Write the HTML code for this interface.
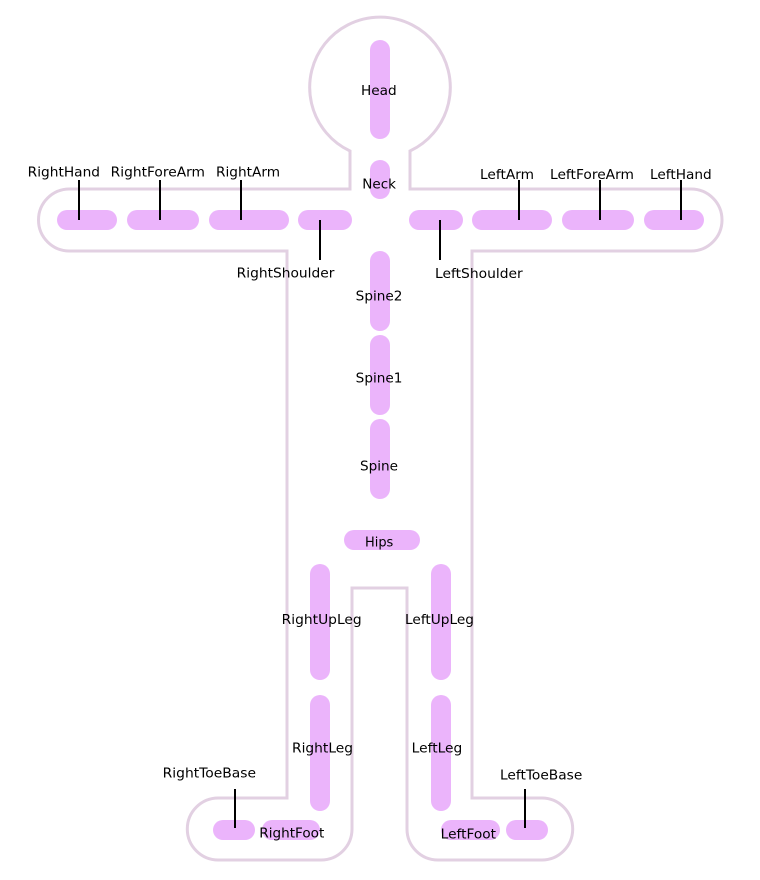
<!DOCTYPE html>
<html>
<head>
<meta charset="utf-8">
<style>
  html, body { margin: 0; padding: 0; background: #ffffff; }
  svg { display: block; }
  text { font-family: "DejaVu Sans", "Liberation Sans", sans-serif; font-size: 13.6px; fill: #000; }
</style>
</head>
<body>
<svg width="760" height="880" viewBox="0 0 760 880" xmlns="http://www.w3.org/2000/svg">
  <rect x="0" y="0" width="760" height="880" fill="#ffffff"/>
  <!-- body outline -->
  <path d="M350,189 L350,151 A70.3,70.3 0 1 1 410,151 L410,189 L691,189 A31,31 0 0 1 691,251 L472,251 L472,798 L541.7,798 A31,31 0 0 1 541.7,860 L438,860 A31,31 0 0 1 407,829 L407,588 L352,588 L352,829 A31,31 0 0 1 321,860 L218.3,860 A31,31 0 0 1 218.3,798 L287,798 L287,251 L69.5,251 A31,31 0 0 1 69.5,189 Z"
        fill="none" stroke="#e2d0e2" stroke-width="3"/>

  <g fill="#ebb4fb">
    <!-- center column -->
    <rect x="370" y="40" width="20" height="99" rx="10"/>
    <rect x="370" y="160" width="20" height="39" rx="10"/>
    <rect x="370" y="251" width="20" height="80" rx="10"/>
    <rect x="370" y="335" width="20" height="80" rx="10"/>
    <rect x="370" y="419" width="20" height="80" rx="10"/>
    <rect x="344" y="530" width="76" height="20" rx="10"/>
    <!-- legs -->
    <rect x="310" y="564" width="20" height="116" rx="10"/>
    <rect x="431" y="564" width="20" height="116" rx="10"/>
    <rect x="310" y="695" width="20" height="116" rx="10"/>
    <rect x="431" y="695" width="20" height="116" rx="10"/>
    <!-- arms -->
    <rect x="57" y="210" width="60" height="20" rx="10"/>
    <rect x="127" y="210" width="72" height="20" rx="10"/>
    <rect x="209" y="210" width="80" height="20" rx="10"/>
    <rect x="298" y="210" width="54" height="20" rx="10"/>
    <rect x="409" y="210" width="54" height="20" rx="10"/>
    <rect x="472" y="210" width="80" height="20" rx="10"/>
    <rect x="562" y="210" width="72" height="20" rx="10"/>
    <rect x="644" y="210" width="60" height="20" rx="10"/>
    <!-- feet -->
    <rect x="213" y="820" width="42" height="20" rx="10"/>
    <rect x="262" y="820" width="58" height="20" rx="10"/>
    <rect x="441" y="820" width="59" height="20" rx="10"/>
    <rect x="506" y="820" width="42" height="20" rx="10"/>
  </g>

  <g stroke="#000" stroke-width="2">
    <line x1="79" y1="180" x2="79" y2="220"/>
    <line x1="160" y1="180" x2="160" y2="220"/>
    <line x1="241" y1="180" x2="241" y2="220"/>
    <line x1="519" y1="180" x2="519" y2="220"/>
    <line x1="600" y1="180" x2="600" y2="220"/>
    <line x1="681" y1="180" x2="681" y2="220"/>
    <line x1="320" y1="220" x2="320" y2="260"/>
    <line x1="440" y1="220" x2="440" y2="260"/>
    <line x1="235" y1="789" x2="235" y2="828"/>
    <line x1="525" y1="789" x2="525" y2="828"/>
  </g>

  <g>
    <text x="361" y="95" textLength="35.7" lengthAdjust="spacingAndGlyphs">Head</text>
    <text x="362.3" y="188.3" textLength="33.7" lengthAdjust="spacingAndGlyphs">Neck</text>
    <text x="27.7" y="176.7" textLength="72.3" lengthAdjust="spacingAndGlyphs">RightHand</text>
    <text x="110.7" y="176.7" textLength="94.3" lengthAdjust="spacingAndGlyphs">RightForeArm</text>
    <text x="216" y="176.7" textLength="64" lengthAdjust="spacingAndGlyphs">RightArm</text>
    <text x="236.7" y="277.3" textLength="97.7" lengthAdjust="spacingAndGlyphs">RightShoulder</text>
    <text x="480" y="179" textLength="54" lengthAdjust="spacingAndGlyphs">LeftArm</text>
    <text x="550" y="179" textLength="84" lengthAdjust="spacingAndGlyphs">LeftForeArm</text>
    <text x="650" y="179" textLength="61.7" lengthAdjust="spacingAndGlyphs">LeftHand</text>
    <text x="435" y="278" textLength="87.7" lengthAdjust="spacingAndGlyphs">LeftShoulder</text>
    <text x="355.7" y="300.7" textLength="46.7" lengthAdjust="spacingAndGlyphs">Spine2</text>
    <text x="355.7" y="382.7" textLength="46.7" lengthAdjust="spacingAndGlyphs">Spine1</text>
    <text x="360" y="470.7" textLength="38" lengthAdjust="spacingAndGlyphs">Spine</text>
    <text x="365" y="546.7" textLength="28.3" lengthAdjust="spacingAndGlyphs">Hips</text>
    <text x="281.7" y="624" textLength="80" lengthAdjust="spacingAndGlyphs">RightUpLeg</text>
    <text x="405" y="624" textLength="69" lengthAdjust="spacingAndGlyphs">LeftUpLeg</text>
    <text x="292" y="752.7" textLength="61" lengthAdjust="spacingAndGlyphs">RightLeg</text>
    <text x="411.7" y="752.7" textLength="50.6" lengthAdjust="spacingAndGlyphs">LeftLeg</text>
    <text x="162.7" y="777.3" textLength="93.3" lengthAdjust="spacingAndGlyphs">RightToeBase</text>
    <text x="259.3" y="837.3" textLength="65" lengthAdjust="spacingAndGlyphs">RightFoot</text>
    <text x="440.7" y="838.4" textLength="55.3" lengthAdjust="spacingAndGlyphs">LeftFoot</text>
    <text x="500" y="779.3" textLength="82.3" lengthAdjust="spacingAndGlyphs">LeftToeBase</text>
  </g>
</svg>
</body>
</html>
